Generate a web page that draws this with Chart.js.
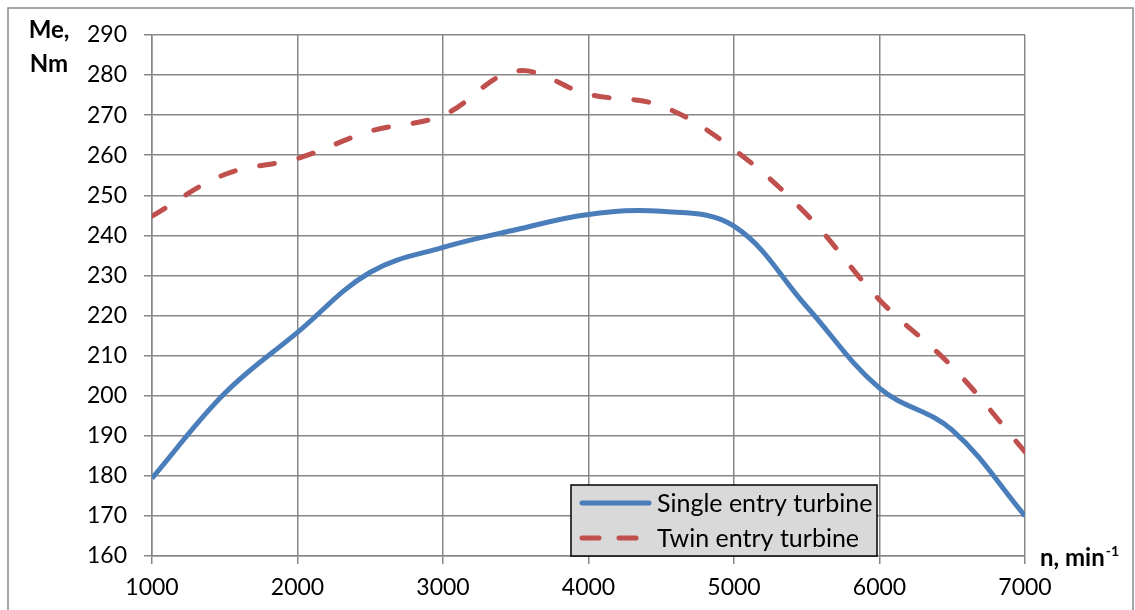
<!DOCTYPE html>
<html>
<head>
<meta charset="utf-8">
<script src="https://cdn.jsdelivr.net/npm/chart.js@4"></script>
<style>
  html, body { margin: 0; padding: 0; background: #fff; }
  #wrap { width: 1135px; height: 610px; position: relative; }
</style>
</head>
<body>
<div id="wrap"><canvas id="chart"></canvas></div>
<script>
// engine speed, min-1
const rpm = [1000, 1500, 2000, 2500, 3000, 3500, 4000, 4500, 5000, 5500, 6000, 6500, 7000];
// torque Me, Nm
const singleEntry = [179.4, 200.6, 215.8, 230.8, 237, 241.4, 245.2, 246, 242.3, 222.2, 201.9, 191.4, 170];
const twinEntry = [244.8, 255.2, 259.2, 266, 270, 281, 275.2, 272.3, 261.4, 245.2, 223.9, 207.2, 186];
const seriesNames = ['Single entry turbine', 'Twin entry turbine'];
const yTitle = ['Me,', 'Nm'];
const xTitle = 'n, min';

const FONT = 'Lato, "Open Sans", sans-serif';
const GRID = '#878787';

function points(ys) {
    return rpm.map((x, i) => ({ x: x, y: ys[i] }));
}

// titles, outer frame and the boxed legend
const decorations = {
    id: 'decorations',
    afterDraw(chart) {
        const ctx = chart.ctx;
        ctx.save();
        ctx.strokeStyle = '#8a8a8a';
        ctx.lineWidth = 1.5;
        ctx.strokeRect(8, 8, 1125, 640);

        ctx.fillStyle = '#000';
        ctx.font = 'bold 24px ' + FONT;
        ctx.textAlign = 'center';
        ctx.textBaseline = 'middle';
        ctx.fillText(yTitle[0], 49, 30);
        ctx.fillText(yTitle[1], 49, 64);

        ctx.textAlign = 'left';
        ctx.textBaseline = 'alphabetic';
        ctx.fillText(xTitle, 1040, 566);
        const w = ctx.measureText(xTitle).width;
        ctx.font = 'bold 14px ' + FONT;
        ctx.fillText('-1', 1040 + w + 1, 556);

        // legend
        const lx = 571, ly = 485, lw = 306, lh = 71;
        ctx.fillStyle = '#d9d9d9';
        ctx.fillRect(lx, ly, lw, lh);
        ctx.strokeStyle = '#000';
        ctx.lineWidth = 1.5;
        ctx.strokeRect(lx, ly, lw, lh);

        chart.data.datasets.forEach((ds, i) => {
            const y = ly + 18 + i * 35;
            ctx.strokeStyle = ds.borderColor;
            ctx.lineWidth = 5;
            ctx.lineCap = 'round';
            ctx.setLineDash(ds.borderDash && ds.borderDash.length ? [17, 20] : []);
            ctx.beginPath();
            ctx.moveTo(582, y);
            ctx.lineTo(649, y);
            ctx.stroke();
            ctx.setLineDash([]);
            ctx.fillStyle = '#000';
            ctx.font = '25px ' + FONT;
            ctx.textBaseline = 'middle';
            ctx.fillText(ds.label, 657, y + 1);
        });
        ctx.restore();
    }
};

new Chart(document.getElementById('chart'), {
    type: 'line',
    data: {
        datasets: [
            {
                label: seriesNames[0],
                data: points(singleEntry),
                borderColor: '#4a7ebb',
                borderWidth: 5,
                pointRadius: 0,
                tension: 0.38,
                fill: false
            },
            {
                label: seriesNames[1],
                data: points(twinEntry),
                borderColor: '#c0504d',
                borderWidth: 5,
                borderDash: [15, 25],
                borderCapStyle: 'round',
                pointRadius: 0,
                tension: 0.38,
                fill: false
            }
        ]
    },
    options: {
        responsive: true,
        maintainAspectRatio: false,
        animation: false,
        layout: { padding: { top: 35, right: 110, left: 0, bottom: 0 } },
        plugins: {
            legend: { display: false },
            tooltip: { enabled: false }
        },
        scales: {
            x: {
                type: 'linear',
                min: 1000,
                max: 7000,
                ticks: {
                    stepSize: 1000,
                    color: '#000',
                    font: { family: FONT, size: 23 },
                    padding: 10,
                    maxRotation: 0,
                    callback: (v) => String(v)
                },
                grid: { color: GRID, lineWidth: 1.5, tickLength: 8 },
                border: { color: GRID, width: 1.5 },
                afterFit(scale) { scale.height = 54; }
            },
            y: {
                min: 160,
                max: 290,
                ticks: {
                    stepSize: 10,
                    color: '#000',
                    font: { family: FONT, size: 23 },
                    padding: 17
                },
                grid: { color: GRID, lineWidth: 1.5, tickLength: 8 },
                border: { color: GRID, width: 1.5 },
                afterFit(scale) { scale.width = 152; }
            }
        }
    },
    plugins: [decorations]
});
</script>
</body>
</html>
